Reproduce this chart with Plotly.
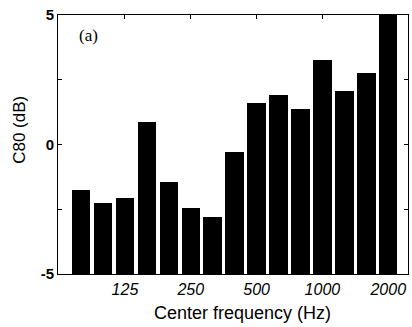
import plotly.graph_objects as go

bands = ["80", "100", "125", "160", "200", "250", "315", "400", "500",
         "630", "800", "1000", "1250", "1600", "2000"]
c80 = [-1.75, -2.25, -2.05, 0.85, -1.45, -2.45, -2.8, -0.3, 1.6,
       1.93, 1.38, 3.28, 2.08, 2.78, 5.0]
tick_labels = ["125", "250", "500", "1000", "2000"]
floor_db = -5

idx = list(range(len(bands)))
tick_idx = [bands.index(t) for t in tick_labels]

fig = go.Figure()
fig.add_trace(go.Bar(
    x=idx,
    y=[v - floor_db for v in c80],
    base=floor_db,
    width=0.84,
    marker=dict(color="black", line=dict(width=0)),
))

fig.add_annotation(x=0.054, y=0.965, xref="paper", yref="paper",
                   text="(a)", showarrow=False, xanchor="left", yanchor="top",
                   font=dict(family="Liberation Serif, Times New Roman", size=17, color="black"))
fig.add_annotation(x=0.526, y=-0.151, xref="paper", yref="paper",
                   text="Center frequency (Hz)", showarrow=False,
                   xanchor="center", yanchor="middle",
                   font=dict(family="Liberation Sans, Arial", size=18, color="black"))
fig.add_annotation(x=-0.109, y=0.556, xref="paper", yref="paper",
                   text="C80 (dB)", showarrow=False, textangle=-90,
                   xanchor="center", yanchor="middle",
                   font=dict(family="Liberation Sans, Arial", size=17, color="black"))

fig.update_layout(
    width=412, height=327,
    margin=dict(l=58, r=4, t=15, b=53),
    paper_bgcolor="white", plot_bgcolor="white",
    showlegend=False,
    bargap=0,
    font=dict(family="Liberation Sans, Arial", color="black"),
)
fig.update_xaxes(
    range=[-1.05, 14.9],
    tickmode="array", tickvals=tick_idx, ticktext=tick_labels,
    tickfont=dict(size=16, family="Liberation Sans, Arial", style="italic"),
    ticks="inside", ticklen=4, tickcolor="black",
    ticklabelstandoff=1,
    showline=True, linecolor="black", linewidth=1, mirror="ticks",
    showgrid=False, zeroline=False,
)
fig.update_yaxes(
    range=[-5, 5],
    tickmode="array", tickvals=[-5, -2.5, 0, 2.5, 5], ticktext=["-5", "", "0", "", "5"],
    tickfont=dict(size=15, family="Liberation Sans, Arial", weight="bold"),
    ticks="inside", ticklen=4, tickcolor="black",
    showline=True, linecolor="black", linewidth=1, mirror="ticks",
    showgrid=False, zeroline=False,
)

fig.write_html("out.html")
